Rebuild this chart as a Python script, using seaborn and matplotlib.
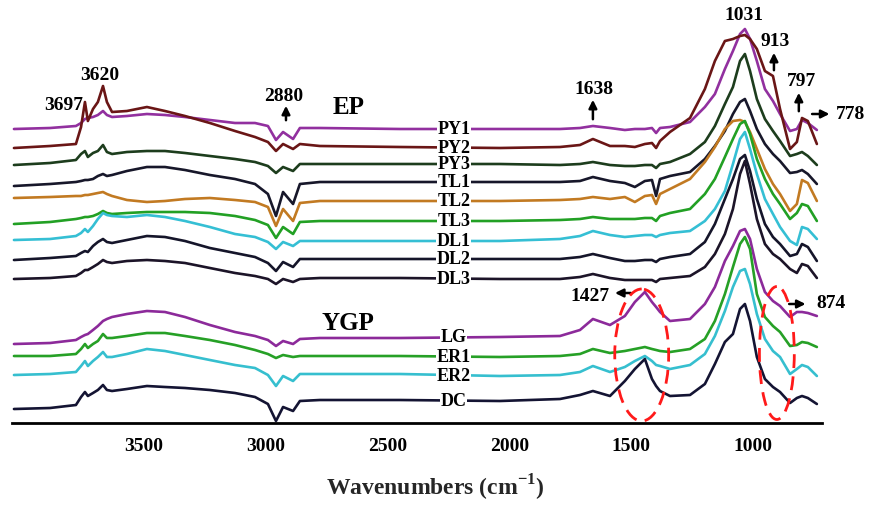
import numpy as np
import pandas as pd
import matplotlib
matplotlib.use("Agg")
import matplotlib.pyplot as plt
import seaborn as sns
from matplotlib.patches import Ellipse

# ---------------- data ----------------
# wavenumber grid (cm-1)
wavenumber = [4030, 3882, 3776, 3755, 3739, 3727, 3706, 3686, 3665, 3649, 3628, 3567,
              3485, 3411, 3329, 3227, 3124, 3042, 2989, 2956, 2927, 2886, 2858, 2776, 2448,
              2038, 1792, 1710, 1657, 1587, 1526, 1485, 1444, 1415, 1398, 1382, 1341,
              1259, 1198, 1157, 1116, 1083, 1054, 1034, 1013, 985, 952, 919, 890, 849,
              821, 800, 776, 739]

samples = ["PY1", "PY2", "PY3", "TL1", "TL2", "TL3", "DL1", "DL2", "DL3",
           "LG", "ER1", "ER2", "DC"]

# stacked spectra, offset units (larger = lower on the plot)
PY1 = [130, 129, 127, 124, 120, 119, 118, 116, 112, 116, 118, 117, 115, 116, 118, 121, 124, 124, 127, 141, 133, 140, 129, 129, 130,
       130, 130, 129, 127, 129, 131, 130, 130, 129, 134, 129, 128, 123, 108, 95, 70, 52, 35, 30, 40, 62, 90, 102, 115, 132, 130, 121, 124, 131]
PY2 = [149, 147, 145, 128, 103, 122, 110, 103, 87, 103, 113, 112, 108, 112, 117, 124, 132, 138, 143, 152, 145, 150, 145, 147, 148,
       149, 148, 146, 140, 147, 147, 148, 145, 144, 149, 142, 133, 119, 90, 62, 42, 40, 37, 36, 40, 50, 72, 77, 110, 150, 143, 119, 122, 145]
PY3 = [166, 164, 161, 155, 152, 158, 154, 152, 146, 153, 155, 153, 152, 152, 154, 157, 160, 163, 167, 174, 168, 172, 165, 165, 165,
       165, 166, 165, 163, 166, 167, 167, 166, 166, 169, 165, 163, 155, 143, 127, 105, 88, 62, 55, 72, 100, 120, 132, 142, 157, 155, 153, 157, 166]
TL1 = [187, 185, 183, 182, 181, 181, 180, 177, 175, 177, 176, 172, 168, 168, 171, 176, 180, 185, 195, 217, 193, 205, 185, 183, 183,
       183, 183, 182, 178, 182, 184, 188, 182, 181, 197, 180, 177, 173, 160, 147, 132, 115, 103, 100, 112, 130, 145, 155, 162, 174, 173, 171, 175, 185]
TL2 = [199, 198, 197, 197, 196, 196, 195, 194, 193, 195, 197, 201, 203, 202, 200, 199, 201, 203, 208, 227, 210, 222, 204, 202, 202,
       202, 201, 200, 198, 200, 198, 203, 197, 196, 205, 195, 190, 180, 163, 148, 130, 122, 121, 123, 133, 150, 170, 185, 195, 212, 205, 181, 184, 202]
TL3 = [225, 223, 220, 219, 218, 218, 217, 215, 212, 214, 215, 214, 213, 213, 213, 214, 217, 221, 226, 239, 228, 235, 223, 222, 222,
       222, 221, 220, 218, 220, 220, 220, 219, 219, 222, 217, 214, 210, 195, 180, 158, 140, 125, 122, 135, 160, 180, 195, 205, 220, 214, 205, 207, 222]
DL1 = [241, 240, 237, 234, 230, 233, 227, 220, 214, 216, 217, 218, 216, 218, 222, 228, 235, 238, 243, 250, 243, 247, 242, 242, 242,
       242, 240, 237, 232, 236, 238, 237, 236, 236, 238, 236, 234, 232, 222, 210, 192, 165, 140, 133, 150, 175, 200, 215, 228, 242, 246, 228, 230, 240]
DL2 = [261, 259, 257, 254, 252, 253, 247, 243, 240, 243, 244, 241, 237, 238, 242, 249, 254, 258, 264, 272, 263, 268, 260, 260, 260,
       260, 260, 258, 255, 259, 262, 262, 261, 261, 263, 260, 258, 255, 243, 225, 200, 180, 160, 156, 172, 200, 225, 238, 245, 257, 255, 245, 248, 262]
DL3 = [280, 279, 277, 274, 271, 271, 268, 265, 261, 263, 264, 262, 261, 262, 264, 269, 274, 277, 280, 285, 280, 283, 280, 279, 279,
       280, 280, 278, 275, 279, 281, 281, 281, 281, 283, 280, 279, 277, 268, 255, 235, 210, 175, 162, 185, 220, 245, 255, 260, 270, 274, 265, 267, 279]
LG = [345, 344, 341, 338, 336, 335, 331, 327, 322, 320, 318, 315, 312, 313, 318, 326, 333, 337, 341, 347, 342, 345, 340, 339, 339,
      338, 337, 331, 320, 326, 317, 303, 293, 303, 308, 313, 322, 320, 305, 288, 262, 247, 232, 230, 240, 270, 293, 302, 307, 318, 313, 313, 314, 317]
ER1 = [357, 357, 355, 350, 345, 349, 345, 342, 335, 339, 339, 337, 334, 334, 337, 341, 346, 351, 355, 359, 356, 358, 357, 357, 357,
       358, 357, 355, 350, 354, 352, 350, 348, 350, 351, 352, 353, 350, 340, 322, 295, 268, 245, 238, 250, 295, 318, 327, 333, 347, 346, 343, 344, 348]
ER2 = [376, 375, 373, 367, 362, 367, 362, 358, 353, 358, 358, 355, 350, 352, 356, 361, 366, 369, 376, 387, 377, 382, 375, 375, 375,
       377, 376, 373, 367, 373, 368, 362, 357, 362, 366, 367, 370, 366, 355, 337, 312, 288, 272, 270, 285, 315, 340, 352, 358, 375, 370, 366, 368, 377]
DC = [410, 409, 406, 398, 393, 397, 394, 391, 386, 391, 392, 390, 387, 388, 389, 391, 394, 398, 405, 422, 408, 412, 402, 401, 401,
      402, 400, 396, 392, 397, 382, 370, 360, 380, 387, 392, 397, 396, 385, 365, 343, 335, 310, 305, 322, 358, 380, 388, 393, 404, 399, 397, 399, 405]

series = [PY1, PY2, PY3, TL1, TL2, TL3, DL1, DL2, DL3, LG, ER1, ER2, DC]

colors = {"PY1": "#92309f", "PY2": "#6a1616", "PY3": "#1d3d1d", "TL1": "#17172a",
          "TL2": "#c27a22", "TL3": "#22a024", "DL1": "#35bfd4", "DL2": "#15152a",
          "DL3": "#1c1428", "LG": "#8c2a9a", "ER1": "#26a026", "ER2": "#36bfcf",
          "DC": "#141433"}

tick_values = [3500, 3000, 2500, 2000, 1500, 1000]

# ---------------- style ----------------
sns.set_style("white")
plt.rcParams["font.family"] = ["Liberation Serif", "DejaVu Serif"]
plt.rcParams["font.weight"] = "bold"
plt.rcParams["mathtext.fontset"] = "custom"
plt.rcParams["mathtext.rm"] = "Liberation Serif:bold"
plt.rcParams["mathtext.bf"] = "Liberation Serif:bold"

df = pd.concat([pd.DataFrame({"wn": wavenumber, "val": s, "sample": n})
                for n, s in zip(samples, series)], ignore_index=True)

fig = plt.figure(figsize=(8.69, 5.06), dpi=100)
ax = fig.add_axes([12 / 869, 82 / 506, 810 / 869, 424 / 506])

sns.lineplot(data=df, x="wn", y="val", hue="sample", palette=colors,
             sort=False, estimator=None, linewidth=1.9, legend=False, ax=ax)

ax.set_xlim(4038, 718)
ax.set_ylim(424, 0)
ax.set_yticks([])
ax.set_ylabel("")
ax.set_xticks(tick_values)
ax.set_xticklabels([str(t) for t in tick_values], fontsize=14, fontweight="bold")
for sp in ("left", "top", "right"):
    ax.spines[sp].set_visible(False)
ax.spines["bottom"].set_linewidth(2.0)
ax.spines["bottom"].set_color("black")
ax.tick_params(axis="x", direction="out", length=5, width=1.5, pad=5, colors="black")
ax.set_xlabel(r"Wavenumbers (cm$^{\mathbf{-1}}$)", fontsize=17, fontweight="bold")
ax.xaxis.set_label_coords((435 - 12) / 810, -0.115)

# trace labels sitting on the lines (taken at the flat 2038 cm-1 region)
label_wn = 2227
idx = wavenumber.index(2038)
for n, s in zip(samples, series):
    ax.text(label_wn, s[idx], n, ha="center", va="center", fontsize=13,
            fontweight="bold", color="black", zorder=5,
            bbox=dict(facecolor="white", edgecolor="none", pad=0.4))

txt = dict(ha="center", va="center", fontweight="bold", color="black",
           annotation_clip=False)
arr = dict(arrowstyle="-|>", color="black", lw=1.8, mutation_scale=12)

ax.annotate("3697", xy=(3825, 106), fontsize=14, **txt)
ax.annotate("3620", xy=(3677, 75), fontsize=14, **txt)
ax.annotate("2880", xy=(2923, 97), fontsize=14, **txt)
ax.annotate("", xy=(2915, 104), xytext=(2915, 124), arrowprops=arr, annotation_clip=False)
ax.annotate("EP", xy=(2657, 108), fontsize=18, **txt)
ax.annotate("1638", xy=(1653, 89), fontsize=14, **txt)
ax.annotate("", xy=(1657, 98), xytext=(1657, 123), arrowprops=arr, annotation_clip=False)
ax.annotate("1031", xy=(1038, 15), fontsize=14, **txt)
ax.annotate("913", xy=(911, 42), fontsize=14, **txt)
ax.annotate("", xy=(915, 51), xytext=(915, 74), arrowprops=arr, annotation_clip=False)
ax.annotate("797", xy=(801, 81), fontsize=14, **txt)
ax.annotate("", xy=(813, 91), xytext=(813, 115), arrowprops=arr, annotation_clip=False)
ax.annotate("", xy=(676, 115), xytext=(770, 115), arrowprops=arr, annotation_clip=False)
ax.annotate("778", xy=(602, 115), fontsize=14, **txt)
ax.annotate("1427", xy=(1668, 297), fontsize=14, **txt)
ax.annotate("", xy=(1578, 294), xytext=(1490, 294), arrowprops=arr, annotation_clip=False)
ax.annotate("", xy=(774, 305), xytext=(864, 305), arrowprops=arr, annotation_clip=False)
ax.annotate("874", xy=(680, 304), fontsize=14, **txt)
ax.annotate("YGP", xy=(2661, 324), fontsize=18, **txt)

for cx, cy, w, h in [(1457, 356, 221, 132), (903, 354, 143, 133)]:
    ax.add_patch(Ellipse((cx, cy), width=w, height=h, fill=False, edgecolor="#ff1a1a",
                         linestyle=(0, (5, 3)), linewidth=2.0, zorder=6))

fig.savefig("out.png", dpi=100)
